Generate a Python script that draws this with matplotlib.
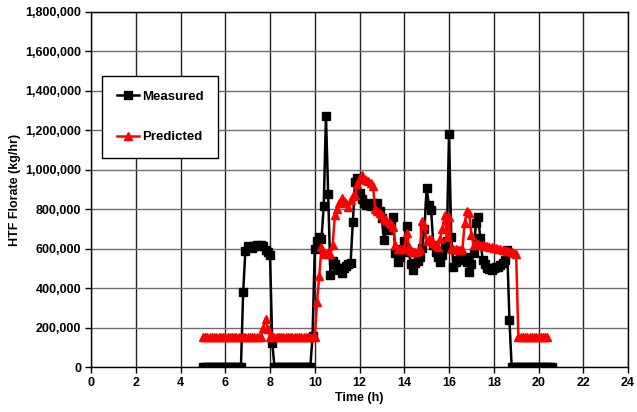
import numpy as np
import matplotlib
matplotlib.use("Agg")
import matplotlib.pyplot as plt
from matplotlib.ticker import FuncFormatter, MultipleLocator

# HTF flow rate, sampled every 0.1 h starting at 5.0 h (one row = one hour)
t_start = 5.0
t_step = 0.1

measured = [
    0, 0, 0, 0, 0, 0, 0, 0, 0, 0,                                                          # 5.0
    0, 0, 0, 0, 0, 0, 0, 0, 382000, 590000,                                                # 6.0
    615000, 610000, 605000, 612000, 618000, 615000, 620000, 612000, 595000, 585000,        # 7.0
    568000, 120000, 0, 0, 0, 0, 0, 0, 0, 0,                                                # 8.0
    0, 0, 0, 0, 0, 0, 0, 0, 0, 155000,                                                     # 9.0
    600000, 640000, 660000, 650000, 816000, 1273000, 876000, 466000, 540000, 520000,       # 10.0
    500000, 490000, 475000, 500000, 510000, 520000, 526000, 737000, 940000, 957000,        # 11.0
    880000, 850000, 830000, 822000, 820000, 816000, 830000, 816000, 830000, 790000,        # 12.0
    754000, 644000, 700000, 695000, 720000, 762000, 577000, 534000, 559000, 600000,        # 13.0
    640000, 715000, 585000, 520000, 492000, 526000, 540000, 560000, 602000, 700000,        # 14.0
    906000, 822000, 796000, 619000, 585000, 560000, 534000, 568000, 610000, 640000,        # 15.0
    1182000, 660000, 509000, 530000, 543000, 560000, 550000, 559000, 530000, 483000,       # 16.0
    520000, 577000, 729000, 762000, 653000, 543000, 520000, 500000, 495000, 492000,        # 17.0
    500000, 505000, 509000, 515000, 525000, 545000, 595000, 238000, 0, 0,                  # 18.0
    0, 0, 0, 0, 0, 0, 0, 0, 0, 0,                                                          # 19.0
    0, 0, 0, 0, 0, 0, 0,                                                                   # 20.0
]

predicted = [
    150000, 150000, 150000, 150000, 150000, 150000, 150000, 150000, 150000, 150000,        # 5.0
    150000, 150000, 150000, 150000, 150000, 150000, 150000, 150000, 150000, 150000,        # 6.0
    150000, 150000, 150000, 150000, 150000, 150000, 150000, 200000, 245000, 195000,        # 7.0
    150000, 150000, 150000, 150000, 150000, 150000, 150000, 150000, 150000, 150000,        # 8.0
    150000, 150000, 150000, 150000, 150000, 150000, 150000, 150000, 150000, 150000,        # 9.0
    150000, 330000, 460000, 610000, 580000, 575000, 580000, 575000, 620000, 770000,        # 10.0
    800000, 830000, 855000, 840000, 830000, 810000, 845000, 865000, 870000, 930000,        # 11.0
    960000, 975000, 955000, 948000, 945000, 935000, 920000, 800000, 790000, 780000,        # 12.0
    770000, 755000, 745000, 735000, 725000, 712000, 620000, 600000, 600000, 600000,        # 13.0
    600000, 680000, 610000, 590000, 585000, 585000, 590000, 600000, 740000, 720000,        # 14.0
    640000, 650000, 650000, 630000, 620000, 610000, 650000, 700000, 770000, 660000,        # 15.0
    760000, 600000, 600000, 600000, 595000, 595000, 600000, 730000, 790000, 780000,        # 16.0
    670000, 620000, 627000, 624000, 620000, 618000, 615000, 612000, 610000, 607000,        # 17.0
    605000, 603000, 600000, 597000, 595000, 592000, 590000, 587000, 583000, 580000,        # 18.0
    575000, 150000, 150000, 150000, 150000, 150000, 150000, 150000, 150000, 150000,        # 19.0
    150000, 150000, 150000, 150000, 150000,                                                # 20.0
]

x_ticks = [0, 2, 4, 6, 8, 10, 12, 14, 16, 18, 20, 22, 24]

t_meas = t_start + t_step * np.arange(len(measured))
t_pred = t_start + t_step * np.arange(len(predicted))

plt.rcParams["font.family"] = ["Liberation Sans", "DejaVu Sans"]
plt.rcParams["font.weight"] = "bold"

fig = plt.figure(figsize=(6.37, 4.12), dpi=100)
ax = fig.add_axes([0.1429, 0.1092, 0.843, 0.8617])

ax.plot(t_meas, measured, color="black", lw=1.8, marker="s", ms=5.3,
        label="Measured", zorder=3)
ax.plot(t_pred, predicted, color="#ff0000", lw=1.8, marker="^", ms=6,
        label="Predicted", zorder=4)

ax.set_xlim(0, 24)
ax.set_ylim(0, 1800000)
ax.set_xticks(x_ticks)
ax.yaxis.set_major_locator(MultipleLocator(200000))
ax.yaxis.set_major_formatter(FuncFormatter(lambda v, p: f"{v:,.0f}"))
ax.tick_params(labelsize=9, length=4, width=1, color="black", pad=3)
for lbl in ax.get_xticklabels() + ax.get_yticklabels():
    lbl.set_fontweight("bold")

ax.grid(axis="x", color="#222222", lw=1.0)
ax.grid(axis="y", color="#6e6e6e", lw=1.0)
ax.set_axisbelow(True)
for sp in ax.spines.values():
    sp.set_color("black")
    sp.set_linewidth(1.0)

ax.set_xlabel("Time (h)", fontsize=9, fontweight="bold", labelpad=2)
ax.set_ylabel("HTF Florate (kg/hr)", fontsize=9, fontweight="bold", labelpad=3)

leg = ax.legend(loc="upper left", bbox_to_anchor=(0.0205, 0.82),
                borderaxespad=0, labelspacing=2.15,
                borderpad=1.1, handlelength=1.7, handletextpad=0.25,
                fancybox=False, framealpha=1, edgecolor="black",
                prop={"weight": "bold", "size": 9.5})
leg.get_frame().set_linewidth(1.0)

fig.savefig("out.png", dpi=100)
plt.close(fig)
